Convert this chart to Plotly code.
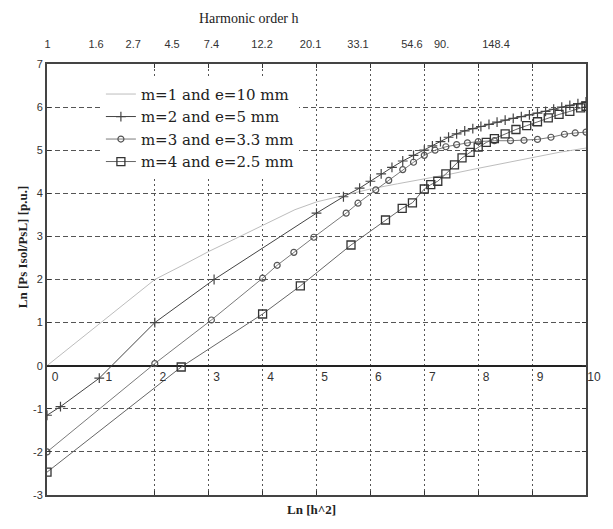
import plotly.graph_objects as go

# ---------------- data ----------------
series_names = ["m=1 and e=10 mm", "m=2 and e=5 mm", "m=3 and e=3.3 mm", "m=4 and e=2.5 mm"]

m1_x = [0, 2.0, 2.5, 3.0, 3.5, 4.0, 4.6, 5.0, 5.5, 6.0, 6.5, 7.0, 7.5, 8.0, 8.5, 9.0, 9.5, 10.0]
m1_y = [0, 2.0, 2.32, 2.65, 2.95, 3.25, 3.62, 3.8, 3.95, 4.1, 4.22, 4.33, 4.45, 4.58, 4.7, 4.82, 4.95, 5.05]

m2_x = [0, 0.25, 0.97, 2.0, 3.1, 5.0, 5.5, 5.8, 6.0, 6.2, 6.4, 6.6, 6.8, 7.0, 7.15, 7.3, 7.45, 7.6,
        7.75, 7.9, 8.05, 8.2, 8.35, 8.5, 8.65, 8.8, 8.95, 9.1, 9.25, 9.4, 9.55, 9.7, 9.85, 10.0]
m2_y = [-1.15, -0.95, -0.29, 1.0, 2.0, 3.54, 3.92, 4.12, 4.28, 4.45, 4.6, 4.75, 4.88, 5.0, 5.1, 5.2,
        5.3, 5.38, 5.45, 5.5, 5.55, 5.6, 5.65, 5.7, 5.74, 5.78, 5.82, 5.86, 5.9, 5.95, 6.0, 6.04, 6.08, 6.12]

m3_x = [0, 2.0, 3.05, 4.0, 4.27, 4.58, 4.95, 5.55, 5.77, 6.1, 6.34, 6.6, 6.8, 7.0, 7.2, 7.4, 7.6,
        7.8, 8.0, 8.3, 8.6, 8.85, 9.1, 9.35, 9.6, 9.8, 10.0]
m3_y = [-2.0, 0.05, 1.06, 2.03, 2.33, 2.63, 2.98, 3.54, 3.77, 4.08, 4.3, 4.55, 4.72, 4.88, 5.0, 5.08,
        5.13, 5.17, 5.2, 5.22, 5.22, 5.23, 5.25, 5.3, 5.37, 5.4, 5.42]

m4_x = [0, 2.49, 4.0, 4.7, 5.64, 6.28, 6.59, 6.78, 7.0, 7.12, 7.25, 7.4, 7.56, 7.7, 7.85, 8.0, 8.15,
        8.3, 8.5, 8.7, 8.9, 9.1, 9.3, 9.5, 9.7, 9.9, 10.0]
m4_y = [-2.47, -0.03, 1.2, 1.85, 2.8, 3.38, 3.65, 3.78, 4.1, 4.2, 4.28, 4.45, 4.66, 4.82, 4.95, 5.07,
        5.18, 5.27, 5.38, 5.48, 5.57, 5.66, 5.75, 5.83, 5.9, 5.98, 6.02]

x_ticks = [0, 1, 2, 3, 4, 5, 6, 7, 8, 9, 10]
x_grid = [2, 3, 4, 5, 6, 7, 8, 9]
y_ticks = [-3, -2, -1, 0, 1, 2, 3, 4, 5, 6, 7]

top_tick_pos = [0.01, 0.91, 1.60, 2.32, 3.05, 3.99, 4.89, 5.77, 6.77, 7.32, 8.33]
top_tick_text = ["1", "1.6", "2.7", "4.5", "7.4", "12.2", "20.1", "33.1", "54.6", "90.", "148.4"]

# ---------------- figure ----------------
fig = go.Figure()

fig.add_trace(go.Scatter(x=m1_x, y=m1_y, mode="lines", name=series_names[0],
                         line=dict(color="#bdbdbd", width=1)))
fig.add_trace(go.Scatter(x=m2_x, y=m2_y, mode="lines+markers", name=series_names[1],
                         line=dict(color="#444444", width=1),
                         marker=dict(symbol="cross-thin-open", size=7,
                                     line=dict(color="#222222", width=1.2))))
fig.add_trace(go.Scatter(x=m3_x, y=m3_y, mode="lines+markers", name=series_names[2],
                         line=dict(color="#7a7a7a", width=1),
                         marker=dict(symbol="circle-open", size=6, color="#555555",
                                     line=dict(color="#555555", width=1.2))))
fig.add_trace(go.Scatter(x=m4_x, y=m4_y, mode="lines+markers", name=series_names[3],
                         line=dict(color="#666666", width=1),
                         marker=dict(symbol="square-open", size=8, color="#333333",
                                     line=dict(color="#333333", width=1.3))))

# empty traces so the extra axes exist
fig.add_trace(go.Scatter(x=[], y=[], xaxis="x2", showlegend=False, hoverinfo="skip"))
fig.add_trace(go.Scatter(x=[], y=[], xaxis="x3", showlegend=False, hoverinfo="skip"))

tick_font = dict(family="Liberation Sans", size=11, color="#333333")

fig.update_layout(
    width=613, height=529,
    margin=dict(l=47, r=20, t=64, b=34),
    paper_bgcolor="white", plot_bgcolor="white",
    showlegend=True,
    legend=dict(x=0.1, y=0.968, xanchor="left", yanchor="top",
                bgcolor="white", borderwidth=0,
                font=dict(family="DejaVu Serif", size=15, color="#222222"),
                tracegroupgap=0),
    xaxis=dict(range=[0, 10], tickvals=x_grid, showticklabels=False,
               showgrid=True, gridcolor="#555555", gridwidth=1, griddash="2px,3px",
               ticks="inside", ticklen=4, tickcolor="#333333",
               showline=True, mirror="ticks", linecolor="#444444", linewidth=2,
               zeroline=False),
    xaxis2=dict(range=[0, 10], overlaying="x", side="top", anchor="y",
                tickvals=top_tick_pos, ticktext=top_tick_text,
                ticks="outside", ticklen=11, tickcolor="rgba(0,0,0,0)",
                tickfont=tick_font, showgrid=False, showline=False, zeroline=False),
    xaxis3=dict(range=[0, 10], overlaying="x", side="bottom", anchor="free", position=0.3,
                tickvals=x_ticks, ticktext=[str(v) for v in x_ticks],
                ticks="", ticklabelshift=8, ticklabelstandoff=2,
                tickfont=dict(family="Liberation Sans", size=12, color="#333333"),
                showgrid=False, showline=False, zeroline=False),
    yaxis=dict(range=[-3, 7], tickvals=y_ticks, ticktext=[str(v) for v in y_ticks],
               tickfont=tick_font,
               showgrid=True, gridcolor="#555555", gridwidth=1, griddash="5px,3px",
               ticks="inside", ticklen=4, tickcolor="#333333",
               showline=True, mirror="ticks", linecolor="#444444", linewidth=2,
               zeroline=True, zerolinecolor="#222222", zerolinewidth=1.5),
    annotations=[
        dict(text="Harmonic order h", xref="paper", yref="paper", x=0.375, y=1.128,
             showarrow=False, font=dict(family="Liberation Serif", size=14, color="#222222")),
        dict(text="<b>Ln [h^2]</b>", xref="paper", yref="paper", x=0.49, y=-0.056,
             showarrow=False, font=dict(family="Liberation Serif", size=13, color="#222222")),
        dict(text="<b>Ln [Ps Isol/PsL] [p.u.]</b>", xref="paper", yref="paper",
             x=-0.064, y=0.575, textangle=-90, showarrow=False,
             font=dict(family="Liberation Serif", size=13, color="#222222")),
    ],
)

fig.write_html("out.html")
